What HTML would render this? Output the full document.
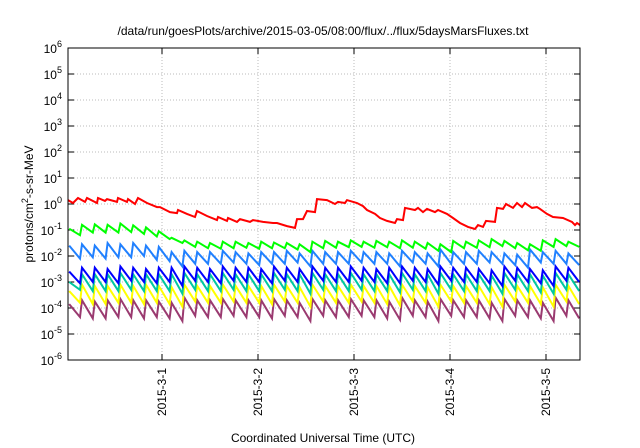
<!DOCTYPE html>
<html><head><meta charset="utf-8"><style>
html,body{margin:0;padding:0;background:#fff;}
svg{display:block;font-family:"Liberation Sans",sans-serif;}
</style></head><body>
<svg id="chart" width="640" height="448" viewBox="0 0 640 448" xmlns="http://www.w3.org/2000/svg">
<rect width="640" height="448" fill="#fff"/>
<text x="323" y="35" font-size="12" text-anchor="middle">/data/run/goesPlots/archive/2015-03-05/08:00/flux/../flux/5daysMarsFluxes.txt</text>
<g id="grid"></g><g id="axes"></g><g id="series"></g>
<rect x="68" y="48" width="512" height="312" fill="none" stroke="#000" stroke-width="1"/>
<text transform="translate(33,204) rotate(-90)" font-size="12" text-anchor="middle">protons/cm<tspan dy="-5" font-size="9">2</tspan><tspan dy="5">-s-sr-MeV</tspan></text>
<text x="323" y="442" font-size="12" text-anchor="middle">Coordinated Universal Time (UTC)</text>
</svg>
<script>
// hours since start (start = 2015-3-1 minus 23.5h)
const xTickLabels=["2015-3-1","2015-3-2","2015-3-3","2015-3-4","2015-3-5"];
const xTickHours=[23.5,47.5,71.5,95.5,119.5];
const yTickExps=[-6,-5,-4,-3,-2,-1,0,1,2,3,4,5,6];
const redHours=[0,1.25,2.5,4.25,4.75,7.25,7.5,9.25,9.75,12.25,12.5,14.75,15,16.75,17.5,19.75,22.25,23,25.5,27.25,27.5,29.75,31.75,32.25,34.75,37.25,37.5,39.75,40,42.25,43,45.5,46.25,48.75,51.25,52.25,54.75,56.75,57.25,58.75,59.75,61.75,62.25,64.75,66.75,67.5,69.25,69.75,72.25,73.75,74.75,76.75,78,79.75,81.75,82.25,83.75,84.25,86.75,87.5,88.75,89.75,91.75,92.5,94.75,96.25,98,100,101.75,102.5,103.75,104.5,106.75,107.25,108.75,109.5,111.25,112.25,113.5,114.25,116,117.25,118,119.75,121.25,123.75,126,126.75,127.25,128];
const redLog=[.15,.04,.23,.08,.23,.04,.23,.12,.19,.08,.23,.08,.19,0,.23,.04,-.12,-.12,-.31,-.35,-.23,-.38,-.5,-.27,-.46,-.62,-.5,-.65,-.54,-.69,-.58,-.69,-.62,-.69,-.73,-.73,-.85,-.92,-.58,-.58,-.27,-.31,.19,.15,0,.08,.04,.15,.04,-.08,-.23,-.38,-.54,-.65,-.73,-.58,-.62,-.15,-.23,-.15,-.31,-.19,-.31,-.23,-.38,-.54,-.73,-.88,-.96,-.81,-.88,-.65,-.69,-.15,-.19,0,-.15,.04,-.12,.04,-.15,-.12,-.19,-.38,-.5,-.54,-.69,-.81,-.73,-.81];
const toothPeriodHours=3.2;
const greenPeak=[-0.95,-0.8,-0.78,-0.8,-0.75,-0.82,-0.9,-1.05,-1.3,-1.4,-1.45,-1.5,-1.45,-1.45,-1.5,-1.45,-1.48,-1.5,-1.55,-1.45,-1.42,-1.45,-1.4,-1.45,-1.42,-1.45,-1.4,-1.45,-1.5,-1.55,-1.42,-1.45,-1.4,-1.35,-1.42,-1.5,-1.55,-1.4,-1.35,-1.45];
const greenTrough=[-1.2,-1.1,-1.1,-1.1,-1.08,-1.15,-1.25,-1.35,-1.5,-1.65,-1.7,-1.72,-1.7,-1.68,-1.72,-1.7,-1.7,-1.75,-1.85,-1.7,-1.68,-1.66,-1.65,-1.68,-1.66,-1.7,-1.68,-1.72,-1.8,-1.85,-1.7,-1.68,-1.66,-1.62,-1.7,-1.78,-1.8,-1.65,-1.62,-1.65];
const lightBluePeak=[-1.6,-1.55,-1.6,-1.5,-1.55,-1.5,-1.6,-1.65,-1.85,-1.8,-1.85,-1.85,-1.8,-1.85,-1.9,-1.85,-1.85,-1.8,-1.9,-1.8,-1.85,-1.85,-1.8,-1.85,-1.85,-1.9,-1.8,-1.85,-1.9,-1.75,-1.85,-1.85,-1.8,-1.85,-1.9,-1.95,-1.75,-1.85,-1.8,-1.9];
const lightBlueTrough=[-2.1,-2.05,-2.1,-2.05,-2.05,-2.0,-2.15,-2.2,-2.4,-2.3,-2.3,-2.3,-2.25,-2.3,-2.35,-2.3,-2.3,-2.25,-2.4,-2.3,-2.3,-2.3,-2.25,-2.3,-2.3,-2.4,-2.25,-2.3,-2.4,-2.3,-2.3,-2.3,-2.25,-2.3,-2.35,-2.45,-2.25,-2.3,-2.3,-2.35];
const bluePeak=[-2.6,-2.45,-2.45,-2.5,-2.4,-2.45,-2.5,-2.45,-2.45,-2.4,-2.45,-2.5,-2.4,-2.45,-2.45,-2.5,-2.4,-2.45,-2.5,-2.4,-2.45,-2.45,-2.4,-2.45,-2.5,-2.45,-2.4,-2.45,-2.5,-2.4,-2.45,-2.45,-2.5,-2.55,-2.4,-2.45,-2.5,-2.55,-2.4,-2.45];
const blueTrough=[-3.05,-3.0,-3.0,-3.05,-2.95,-3.0,-3.05,-3.0,-3.15,-2.95,-3.0,-3.05,-2.95,-3.0,-3.0,-3.05,-2.95,-3.0,-3.1,-2.95,-3.0,-3.0,-2.95,-3.0,-3.05,-3.05,-2.95,-3.0,-3.1,-2.95,-3.0,-3.0,-3.05,-3.15,-2.95,-3.0,-3.05,-3.15,-2.95,-3.0];
const tealPeak=[-3.0,-2.7,-2.7,-2.7,-2.65,-2.7,-2.7,-2.7,-2.7,-2.65,-2.7,-2.7,-2.65,-2.7,-2.7,-2.7,-2.65,-2.7,-2.7,-2.65,-2.7,-2.7,-2.65,-2.7,-2.7,-2.7,-2.65,-2.7,-2.7,-2.65,-2.7,-2.7,-2.7,-2.75,-2.65,-2.7,-2.7,-2.75,-2.65,-2.7];
const tealTrough=[-3.3,-3.35,-3.35,-3.35,-3.3,-3.35,-3.35,-3.35,-3.45,-3.3,-3.35,-3.35,-3.3,-3.35,-3.35,-3.35,-3.3,-3.35,-3.45,-3.3,-3.35,-3.35,-3.3,-3.35,-3.35,-3.4,-3.3,-3.35,-3.45,-3.3,-3.35,-3.35,-3.35,-3.45,-3.3,-3.35,-3.4,-3.45,-3.3,-3.35];
const yellowPeak=[-3.35,-3.1,-3.15,-3.15,-3.1,-3.15,-3.1,-3.15,-3.2,-3.1,-3.15,-3.15,-3.1,-3.15,-3.15,-3.15,-3.1,-3.15,-3.2,-3.1,-3.15,-3.15,-3.1,-3.15,-3.15,-3.15,-3.1,-3.15,-3.2,-3.1,-3.15,-3.15,-3.15,-3.2,-3.1,-3.15,-3.15,-3.2,-3.1,-3.15];
const yellowTrough=[-3.8,-3.85,-3.85,-3.8,-3.8,-3.85,-3.8,-3.85,-3.95,-3.75,-3.8,-3.8,-3.75,-3.8,-3.8,-3.85,-3.75,-3.8,-3.95,-3.75,-3.8,-3.8,-3.75,-3.8,-3.85,-3.9,-3.75,-3.8,-3.95,-3.75,-3.8,-3.8,-3.85,-3.95,-3.75,-3.8,-3.85,-3.95,-3.75,-3.85];
const purplePeak=[-3.85,-3.7,-3.75,-3.7,-3.65,-3.7,-3.7,-3.75,-3.8,-3.6,-3.7,-3.7,-3.65,-3.7,-3.7,-3.7,-3.65,-3.7,-3.8,-3.65,-3.7,-3.7,-3.65,-3.7,-3.7,-3.75,-3.6,-3.7,-3.75,-3.65,-3.7,-3.7,-3.7,-3.8,-3.65,-3.7,-3.7,-3.8,-3.6,-3.7];
const purpleTrough=[-4.35,-4.4,-4.4,-4.35,-4.35,-4.4,-4.35,-4.4,-4.5,-4.3,-4.35,-4.35,-4.3,-4.35,-4.35,-4.4,-4.3,-4.35,-4.5,-4.3,-4.35,-4.35,-4.3,-4.35,-4.4,-4.45,-4.3,-4.35,-4.5,-4.3,-4.35,-4.35,-4.4,-4.5,-4.3,-4.35,-4.4,-4.5,-4.3,-4.4];

const NS="http://www.w3.org/2000/svg";
const L=68,R=580,T=48,B=360,H0=0,H1=128,YMIN=-6,YMAX=6;
const xS=h=>L+(h-H0)/(H1-H0)*(R-L);
const yS=e=>B-(e-YMIN)/(YMAX-YMIN)*(B-T);
function mk(tag,attrs,parent){const el=document.createElementNS(NS,tag);for(const k in attrs)el.setAttribute(k,attrs[k]);parent.appendChild(el);return el;}
const grid=document.getElementById('grid'),axes=document.getElementById('axes'),ser=document.getElementById('series');
yTickExps.forEach(e=>{
  const y=yS(e);
  if(e>YMIN&&e<YMAX){const g=mk('line',{x1:L,x2:R,y1:y,y2:y,stroke:'#bbb','stroke-dasharray':'1,2','stroke-width':1},grid);
  }
  const t1=mk('line',{x1:L,x2:L+6,y1:y,y2:y,stroke:'#000'},axes);
  
  const t2=mk('line',{x1:R-6,x2:R,y1:y,y2:y,stroke:'#000'},axes);
  
  const tx=mk('text',{x:L-6,y:y+5,'font-size':12,'text-anchor':'end'},axes);
  
  tx.appendChild(document.createTextNode('10'));
  const sp=mk('tspan',{dy:-6,'font-size':9},tx);sp.textContent=String(e);
});
xTickHours.forEach((h,i)=>{
  const x=xS(h);
  const g=mk('line',{x1:x,x2:x,y1:T,y2:B,stroke:'#bbb','stroke-dasharray':'1,2'},grid);
  
  const t1=mk('line',{x1:x,x2:x,y1:B-6,y2:B,stroke:'#000'},axes);
  
  const t2=mk('line',{x1:x,x2:x,y1:T,y2:T+6,stroke:'#000'},axes);
  
  const tx=mk('text',{transform:`translate(${x+4},368) rotate(-90)`,'font-size':12,'text-anchor':'end'},axes);
  
  tx.textContent=xTickLabels[i];
});
function tooth(peaks,troughs,color,name){
  const pts=[];
  for(let i=0;i<peaks.length;i++){
    const hp=i*toothPeriodHours+0.3, ht=Math.min((i+1)*toothPeriodHours-0.2,H1);
    pts.push(xS(hp).toFixed(1)+','+yS(peaks[i]).toFixed(1));
    pts.push(xS(ht).toFixed(1)+','+yS(troughs[i]).toFixed(1));
  }
  const p=mk('polyline',{points:pts.join(' '),fill:'none',stroke:color,'stroke-width':2,'stroke-linejoin':'miter'},ser);
  
}
tooth(purplePeak,purpleTrough,'#9a3a70','series-purple');
tooth(yellowPeak,yellowTrough,'#ffff00','series-yellow');
tooth(tealPeak,tealTrough,'#00c8a0','series-teal');
tooth(bluePeak,blueTrough,'#0000ff','series-blue');
tooth(lightBluePeak,lightBlueTrough,'#2080ff','series-light-blue');
tooth(greenPeak,greenTrough,'#00ff00','series-green');
const rp=mk('polyline',{points:redHours.map((h,i)=>xS(h).toFixed(1)+','+yS(redLog[i]).toFixed(1)).join(' '),fill:'none',stroke:'#ff0000','stroke-width':2},ser);


</script>
</body></html>
